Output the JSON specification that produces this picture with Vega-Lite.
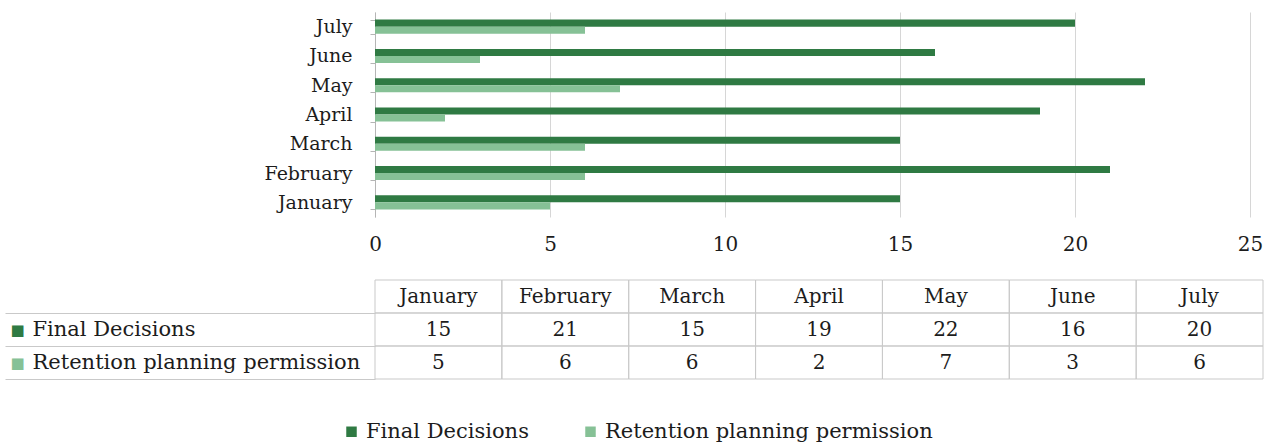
{
  "$schema": "https://vega.github.io/schema/vega-lite/v6.json",
  "background": "white",
  "padding": {"left": 4, "top": 3, "right": 0, "bottom": 0},
  "config": {"view": {"stroke": null}, "font": "DejaVu Serif"},
  "data": {
    "values": [
      {"month": "January", "series": "Final Decisions", "value": 15},
      {"month": "February", "series": "Final Decisions", "value": 21},
      {"month": "March", "series": "Final Decisions", "value": 15},
      {"month": "April", "series": "Final Decisions", "value": 19},
      {"month": "May", "series": "Final Decisions", "value": 22},
      {"month": "June", "series": "Final Decisions", "value": 16},
      {"month": "July", "series": "Final Decisions", "value": 20},
      {"month": "January", "series": "Retention planning permission", "value": 5},
      {"month": "February", "series": "Retention planning permission", "value": 6},
      {"month": "March", "series": "Retention planning permission", "value": 6},
      {"month": "April", "series": "Retention planning permission", "value": 2},
      {"month": "May", "series": "Retention planning permission", "value": 7},
      {"month": "June", "series": "Retention planning permission", "value": 3},
      {"month": "July", "series": "Retention planning permission", "value": 6}
    ]
  },
  "bounds": "flush",
  "spacing": 63,
  "vconcat": [
    {
      "width": 875,
      "height": 205,
      "mark": {"type": "bar"},
      "encoding": {
        "y": {
          "field": "month",
          "type": "nominal",
          "sort": ["July", "June", "May", "April", "March", "February", "January"],
          "scale": {"paddingInner": 0.52, "paddingOuter": 0.26},
          "axis": {
            "title": null,
            "domain": true,
            "domainColor": "#b5b5b5",
            "ticks": true,
            "tickBand": "extent",
            "tickSize": 5,
            "tickColor": "#b5b5b5",
            "labelFontSize": 19,
            "labelColor": "#1c1c1c",
            "labelPadding": 18
          }
        },
        "yOffset": {
          "field": "series",
          "type": "nominal",
          "sort": ["Final Decisions", "Retention planning permission"]
        },
        "x": {
          "field": "value",
          "type": "quantitative",
          "scale": {"domain": [0, 25]},
          "axis": {
            "title": null,
            "values": [0, 5, 10, 15, 20, 25],
            "grid": true,
            "gridColor": "#d6d6d6",
            "domain": false,
            "ticks": false,
            "labelFlush": false,
            "labelPadding": 17,
            "labelFontSize": 20,
            "labelColor": "#1c1c1c"
          }
        },
        "color": {
          "field": "series",
          "type": "nominal",
          "scale": {
            "domain": ["Final Decisions", "Retention planning permission"],
            "range": ["#2f7a43", "#86c196"]
          },
          "legend": {
            "orient": "none",
            "legendX": -34,
            "legendY": 409,
            "direction": "horizontal",
            "title": null,
            "symbolType": "square",
            "symbolSize": 110,
            "symbolStrokeWidth": 0,
            "labelFontSize": 21,
            "labelColor": "#1c1c1c",
            "labelLimit": 0,
            "labelOffset": 4,
            "columnPadding": 51
          }
        }
      }
    },
    {
      "width": 888,
      "height": 99,
      "resolve": {"axis": {"y": "independent"}},
      "layer": [
        {
          "mark": {"type": "rect", "fillOpacity": 0, "stroke": "#c9c9c9", "strokeWidth": 1},
          "encoding": {
            "x": {
              "field": "month",
              "type": "nominal",
              "sort": ["January", "February", "March", "April", "May", "June", "July"],
              "scale": {"domain": ["January", "February", "March", "April", "May", "June", "July"], "paddingInner": 0, "paddingOuter": 0},
              "axis": null
            },
            "y": {
              "field": "series",
              "type": "nominal",
              "scale": {"domain": ["header", "Final Decisions", "Retention planning permission"], "paddingInner": 0, "paddingOuter": 0},
              "axis": {
                "orient": "left",
                "title": null,
                "domain": false,
                "grid": false,
                "ticks": true,
                "tickBand": "extent",
                "tickSize": 370,
                "tickColor": "#c9c9c9",
                "tickOpacity": {"condition": {"test": "!datum.value", "value": 0}, "value": 1},
                "labelExpr": "(!datum.value || datum.value === 'header') ? '' : '■'",
                "labelAlign": "left",
                "labelBaseline": "middle",
                "labelPadding": -5,
                "labelFontSize": 15,
                "labelLimit": 0,
                "labelColor": {"condition": {"test": "datum.value === 'Final Decisions'", "value": "#2f7a43"}, "value": "#86c196"}
              }
            }
          }
        },
        {
          "transform": [{"filter": "datum.series === 'Final Decisions'"}],
          "mark": {"type": "rect", "fillOpacity": 0, "stroke": "#c9c9c9", "strokeWidth": 1},
          "encoding": {
            "x": {"field": "month", "type": "nominal", "sort": ["January", "February", "March", "April", "May", "June", "July"], "axis": null},
            "y": {"datum": "header", "type": "nominal", "axis": null}
          }
        },
        {
          "mark": {"type": "text", "fontSize": 20, "color": "#1c1c1c"},
          "encoding": {
            "x": {"field": "month", "type": "nominal", "sort": ["January", "February", "March", "April", "May", "June", "July"], "axis": null},
            "y": {
              "field": "series",
              "type": "nominal",
              "axis": {
                "orient": "left",
                "title": null,
                "domain": false,
                "grid": false,
                "ticks": false,
                "labelExpr": "datum.value === 'header' ? '' : datum.value",
                "labelAlign": "left",
                "labelPadding": 343,
                "labelFontSize": 21,
                "labelLimit": 0,
                "labelColor": "#1c1c1c"
              }
            },
            "text": {"field": "value"}
          }
        },
        {
          "transform": [{"filter": "datum.series === 'Final Decisions'"}],
          "mark": {"type": "text", "fontSize": 20, "color": "#1c1c1c"},
          "encoding": {
            "x": {"field": "month", "type": "nominal", "sort": ["January", "February", "March", "April", "May", "June", "July"], "axis": null},
            "y": {"datum": "header", "type": "nominal", "axis": null},
            "text": {"field": "month"}
          }
        }
      ]
    }
  ]
}
